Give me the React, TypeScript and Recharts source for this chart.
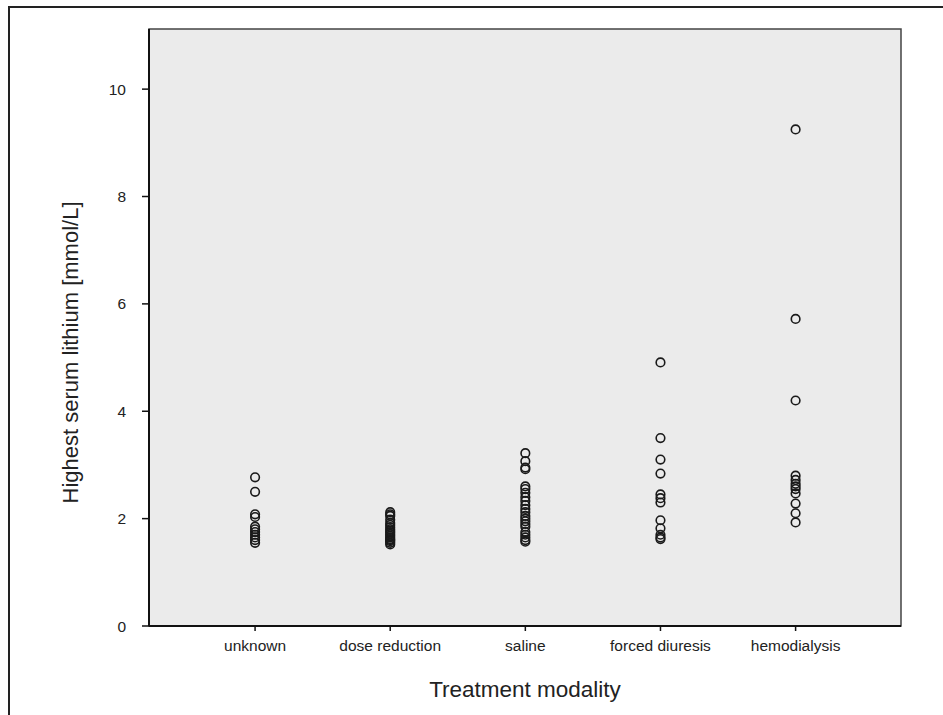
import React from "react";
import {
  ScatterChart,
  Scatter,
  XAxis,
  YAxis,
  ReferenceArea,
} from "recharts";

const categories = ["unknown", "dose reduction", "saline", "forced diuresis", "hemodialysis"];

const unknownValues = [2.77, 2.5, 2.08, 2.03, 1.85, 1.8, 1.75, 1.7, 1.65, 1.6, 1.55];
const doseReductionValues = [2.12, 2.08, 2.05, 1.98, 1.92, 1.88, 1.84, 1.8, 1.77, 1.74, 1.71, 1.68, 1.65, 1.62, 1.6, 1.58, 1.55, 1.52];
const salineValues = [3.22, 3.07, 2.95, 2.92, 2.6, 2.55, 2.48, 2.4, 2.33, 2.25, 2.18, 2.12, 2.05, 2.0, 1.95, 1.9, 1.85, 1.75, 1.7, 1.65, 1.6, 1.57];
const forcedDiuresisValues = [4.91, 3.5, 3.1, 2.84, 2.45, 2.38, 2.3, 1.97, 1.82, 1.7, 1.65, 1.62];
const hemodialysisValues = [9.25, 5.72, 4.2, 2.8, 2.72, 2.65, 2.6, 2.55, 2.47, 2.28, 2.1, 1.93];

const yTicks = [0, 2, 4, 6, 8, 10];
const xTicks = [0, 1, 2, 3, 4];

const seriesValues = [unknownValues, doseReductionValues, salineValues, forcedDiuresisValues, hemodialysisValues];

const X_MIN = -0.785;
const X_MAX = 4.78;
const Y_MAX = 11.12;

const FONT = "'Liberation Sans', Arial, Helvetica, sans-serif";

const OpenCircle = (props: any) => {
  const { cx, cy } = props;
  if (cx == null || cy == null) return null;
  return <circle cx={cx} cy={cy} r={4.3} fill="none" stroke="#1a1a1a" strokeWidth={1.6} />;
};

const XTitle = (props: any) => {
  const vb = props.viewBox || {};
  const cx = vb.x + vb.width / 2;
  const cy = vb.y + 63;
  return (
    <text x={cx} y={cy} textAnchor="middle" dominantBaseline="central" fill="#222" fontSize={22.5} fontFamily={FONT}>
      Treatment modality
    </text>
  );
};

const YTitle = (props: any) => {
  const vb = props.viewBox || {};
  const cx = vb.x + 70;
  const cy = vb.y + vb.height / 2 + 25;
  return (
    <text
      x={cx}
      y={cy}
      textAnchor="middle"
      dominantBaseline="central"
      transform={`rotate(-90 ${cx} ${cy})`}
      fill="#222"
      fontSize={22}
      fontFamily={FONT}
    >
      Highest serum lithium [mmol/L]
    </text>
  );
};

export default function App() {
  return (
    <div style={{ position: "absolute", left: 0, top: 0, width: 943, height: 715, background: "#fff", fontFamily: FONT }}>
      <div
        style={{
          position: "absolute",
          left: 8,
          top: 6,
          width: 940,
          height: 720,
          borderTop: "2px solid #222",
          borderLeft: "2px solid #222",
          boxSizing: "border-box",
        }}
      />
      <div style={{ position: "absolute", left: 0, top: 0 }}>
        <ScatterChart width={943} height={715} margin={{ top: 29, right: 42, bottom: 0, left: 0 }}>
          <ReferenceArea
            x1={X_MIN}
            x2={X_MAX}
            y1={0}
            y2={Y_MAX}
            fill="#ebebeb"
            fillOpacity={1}
            stroke="#444"
            strokeWidth={1.5}
          />
          <XAxis
            type="number"
            dataKey="x"
            domain={[X_MIN, X_MAX]}
            ticks={xTicks}
            tickFormatter={(v: number) => categories[v] ?? ""}
            height={89}
            tickSize={5}
            tickMargin={9}
            axisLine={{ stroke: "#111", strokeWidth: 2 }}
            tickLine={{ stroke: "#111", strokeWidth: 1.5 }}
            tick={{ fill: "#222", fontSize: 15.5, fontFamily: FONT }}
            allowDataOverflow
            label={<XTitle />}
          />
          <YAxis
            type="number"
            dataKey="y"
            domain={[0, Y_MAX]}
            ticks={yTicks}
            width={149}
            tickSize={7}
            tickMargin={16}
            axisLine={{ stroke: "#111", strokeWidth: 2 }}
            tickLine={{ stroke: "#111", strokeWidth: 1.5 }}
            tick={{ fill: "#222", fontSize: 15.5, fontFamily: FONT }}
            allowDataOverflow
            label={<YTitle />}
          />
          {seriesValues.map((vals, i) => (
            <Scatter
              key={categories[i]}
              name={categories[i]}
              data={vals.map((v) => ({ x: i, y: v }))}
              shape={OpenCircle}
              isAnimationActive={false}
            />
          ))}
        </ScatterChart>
      </div>
    </div>
  );
}
